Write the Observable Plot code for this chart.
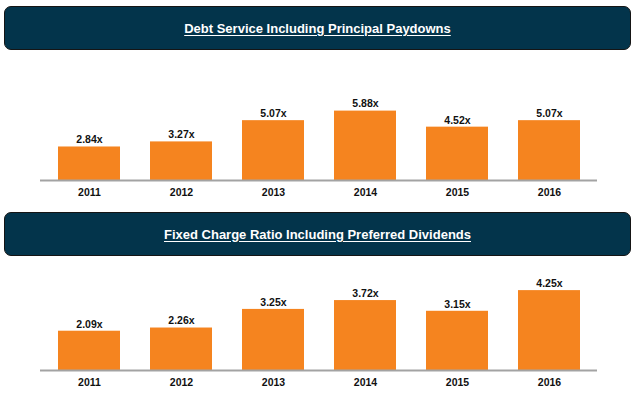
<!DOCTYPE html>
<html>
<head>
<meta charset="utf-8">
<script src="https://cdn.jsdelivr.net/npm/d3@7"></script>
<script src="https://cdn.jsdelivr.net/npm/@observablehq/plot@0.6"></script>
<style>
  html, body { margin: 0; padding: 0; background: #fff; }
  #root { position: relative; width: 640px; height: 396px; overflow: hidden; font-family: "Liberation Sans", Arial, sans-serif; }
  .hdr { position: absolute; left: 4px; width: 627px; height: 44px; box-sizing: border-box;
         background: #03344b; border: 1.5px solid #151515; border-radius: 7px;
         display: flex; align-items: center; justify-content: center;
         color: #fff; font-weight: bold; font-size: 13px; text-decoration: underline; text-underline-offset: 2px; }
  .chart { position: absolute; left: 0; }
</style>
</head>
<body>
<div id="root">
  <div class="hdr" id="h1" style="top:6px;"></div>
  <div class="chart" id="c1" style="top:50px;"></div>
  <div class="hdr" id="h2" style="top:212px;"></div>
  <div class="chart" id="c2" style="top:256px;"></div>
</div>
<script>
const years = ["2011", "2012", "2013", "2014", "2015", "2016"];
const debtService = [2.84, 3.27, 5.07, 5.88, 4.52, 5.07];
const fixedCharge = [2.09, 2.26, 3.25, 3.72, 3.15, 4.25];
const titles = ["Debt Service Including Principal Paydowns", "Fixed Charge Ratio Including Preferred Dividends"];

document.getElementById("h1").textContent = titles[0];
document.getElementById("h2").textContent = titles[1];

function chart(values, height, marginTop, marginBottom, yMax) {
  const data = years.map((y, i) => ({year: y, value: values[i]}));
  return Plot.plot({
    width: 640,
    height,
    marginTop,
    marginBottom,
    marginLeft: 40,
    marginRight: 43,
    style: {fontFamily: "'Liberation Sans', Arial, sans-serif", fontSize: "10.5px", fontWeight: "bold", color: "#111", background: "transparent"},
    x: {domain: years, paddingInner: 0.33, paddingOuter: 0.18, label: null},
    y: {domain: [0, yMax], axis: null},
    marks: [
      Plot.barY(data, {x: "year", y: "value", fill: "#f5841f"}),
      Plot.ruleY([0], {stroke: "#a3a3a3", strokeWidth: 2}),
      Plot.text(data, {x: "year", y: "value", text: d => d.value.toFixed(2) + "x", dy: -7, fontSize: 10.5, fontWeight: "bold", fill: "#111"}),
      Plot.axisX({tickSize: 0, tickPadding: 8, fontSize: 10.5, fontWeight: "bold", fill: "#111", label: null})
    ]
  });
}

document.getElementById("c1").appendChild(chart(debtService, 155, 20, 25, 9.32));
document.getElementById("c2").appendChild(chart(fixedCharge, 140, 14, 26, 5.32));
</script>
</body>
</html>
